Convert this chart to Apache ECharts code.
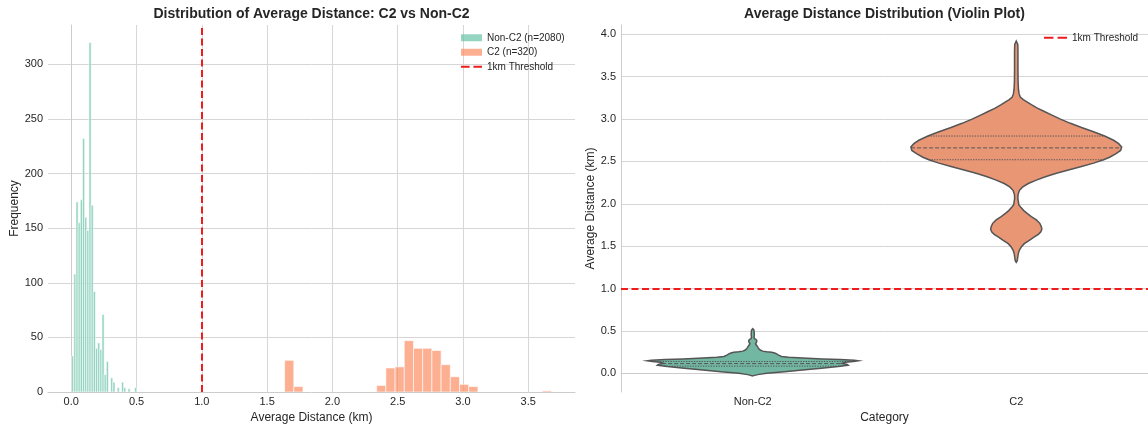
<!DOCTYPE html>
<html><head><meta charset="utf-8">
<script src="https://cdn.jsdelivr.net/npm/echarts@6/dist/echarts.min.js"></script>
<style>html,body{margin:0;padding:0;background:#fff}#c{width:1148px;height:425px}</style>
</head><body><div id="c"></div>
<script>
// ---------------- data ----------------
const nonC2Label = 'Non-C2 (n=2080)';
const c2Label = 'C2 (n=320)';
const thresholdLabel = '1km Threshold';
const threshold = 1.0;

// histogram bins (first bin edge, bin width, counts per bin)
const nonC2BinStart = 0.003;
const nonC2BinWidth = 0.0166;
const nonC2Counts = [33,108,174,155,176,232,160,148,320,171,92,40,45,39,71,16,28,0,13,9,0,4,0,9,4,0,3,0,0,4];
const c2BinStart = 1.634;
const c2BinWidth = 0.0705;
const c2Counts = [29,5,0,0,0,0,0,0,0,0,6,22,23,47,40,40,38,25,14,7,5,0,0,0,0,0,0,0,1];

// violin plot
const violinCategories = ['Non-C2', 'C2'];
// density outline: y (km) and relative half-width
const nonC2ViolinY = [-0.03,-0.015,0.0,0.02,0.04,0.06,0.08,0.095,0.105,0.118,0.13,0.14,0.148,0.155,0.162,0.17,0.18,0.19,0.20,0.215,0.23,0.24,0.248,0.255,0.262,0.272,0.285,0.30,0.32,0.34,0.35,0.36,0.375,0.39,0.40,0.41,0.43,0.46,0.49,0.51,0.527];
const nonC2ViolinD = [0,5,14,32,50,69,86,96,95,90,93,101,106,102,88,70,50,36,29,26,24,22,19,14,10,8,6.5,5.5,4.5,3.2,2.8,3.5,4,4,3,1.6,1.3,1.6,1.4,1.2,0];
const c2ViolinY = [1.31,1.33,1.37,1.41,1.45,1.49,1.53,1.57,1.61,1.64,1.67,1.70,1.73,1.77,1.81,1.85,1.89,1.92,1.96,1.99,2.02,2.06,2.11,2.16,2.20,2.24,2.28,2.32,2.36,2.40,2.44,2.48,2.52,2.55,2.59,2.63,2.67,2.71,2.75,2.80,2.85,2.90,2.95,3.00,3.05,3.09,3.13,3.17,3.20,3.23,3.26,3.30,3.35,3.45,3.6,3.8,3.88,3.92];
const c2ViolinD = [0,1,1.5,2,3,5,8,13,18,22,24.5,25.5,25,23.5,20,15,10.5,7.5,4.5,2.5,2.2,1.6,1.8,3.2,6.5,12,20,29,40,52,65,77,87,93,99,104,105,102,97,88,77,65,54,44,35,28,21,15,11,7,4,2.8,2.2,1.8,1.7,1.7,1.5,0];
const nonC2Quartiles = [0.085, 0.115, 0.14];
const c2Quartiles = [2.52, 2.66, 2.80];

// ---------------- styling ----------------
const FONT = 'Liberation Sans, Arial, sans-serif';
const TXT = '#262626';
const GRIDC = '#d6d6d6';
const SPINE = '#cccccc';
const histGreen = 'rgba(102,194,165,0.7)';
const histOrange = 'rgba(252,141,98,0.7)';
const violinGreen = '#71b7a1';
const violinOrange = '#e99675';
const violinEdge = '#555555';
const RED = '#ee1c1c';
const dashIcon = 'path://M0,0h9v2h-9zM13,0h9v2h-9z';

function binData(start, width, counts) {
  const out = [];
  counts.forEach((c, i) => { if (c > 0) out.push([start + i * width, start + (i + 1) * width, c]); });
  return out;
}

function histRender(color) {
  return function (params, api) {
    const p0 = api.coord([api.value(0), api.value(2)]);
    const p1 = api.coord([api.value(1), 0]);
    return {
      type: 'rect',
      shape: { x: p0[0], y: p0[1], width: p1[0] - p0[0], height: p1[1] - p0[1] },
      style: { fill: color, stroke: '#ffffff', lineWidth: 0.6 }
    };
  };
}

const profiles = [
  { y: nonC2ViolinY, d: nonC2ViolinD, q: nonC2Quartiles, fill: violinGreen },
  { y: c2ViolinY, d: c2ViolinD, q: c2Quartiles, fill: violinOrange }
];

function widthAt(prof, v) {
  for (let i = 0; i < prof.y.length - 1; i++) {
    if (v >= prof.y[i] && v <= prof.y[i + 1]) {
      const t = (v - prof.y[i]) / (prof.y[i + 1] - prof.y[i]);
      return prof.d[i] + t * (prof.d[i + 1] - prof.d[i]);
    }
  }
  return 0;
}

function violinRender(params, api) {
  const idx = api.value(0);
  const prof = profiles[idx];
  const band = api.size([1, 0])[0];
  const cx = api.coord([idx, 0])[0];
  const maxD = Math.max.apply(null, prof.d);
  const k = 0.4 * band / maxD;
  const right = [], left = [];
  for (let i = 0; i < prof.y.length; i++) {
    const py = api.coord([idx, prof.y[i]])[1];
    const w = prof.d[i] * k;
    right.push([cx + w, py]);
    left.push([cx - w, py]);
  }
  const pts = right.concat(left.reverse());
  const children = [{
    type: 'polygon', shape: { points: pts },
    style: { fill: prof.fill, stroke: violinEdge, lineWidth: 1.5 }
  }];
  prof.q.forEach((qv, j) => {
    const py = api.coord([idx, qv])[1];
    const w = widthAt(prof, qv) * k;
    children.push({
      type: 'line', shape: { x1: cx - w, y1: py, x2: cx + w, y2: py },
      style: { stroke: violinEdge, lineWidth: 1, lineDash: j === 1 ? [4, 2] : [1.3, 1.3] }
    });
  });
  return { type: 'group', children: children };
}

const chart = echarts.init(document.getElementById('c'), null, { renderer: 'canvas' });
const axisCommon = {
  axisLine: { show: true, lineStyle: { color: SPINE, width: 1 } },
  axisTick: { show: false },
  nameLocation: 'middle',
  nameTextStyle: { fontSize: 12, color: TXT, fontFamily: FONT }
};
chart.setOption({
  animation: false,
  backgroundColor: '#ffffff',
  textStyle: { fontFamily: FONT },
  graphic: [
    { type: 'text', x: 311.5, y: 14, style: { text: 'Distribution of Average Distance: C2 vs Non-C2', font: 'bold 14px ' + FONT, fill: TXT, textAlign: 'center', textVerticalAlign: 'middle' } },
    { type: 'text', x: 884.5, y: 14, style: { text: 'Average Distance Distribution (Violin Plot)', font: 'bold 14px ' + FONT, fill: TXT, textAlign: 'center', textVerticalAlign: 'middle' } }
  ],
  grid: [
    { left: 48, top: 25, width: 527, height: 367, outerBoundsMode: 'none', containLabel: false },
    { left: 621, top: 25, width: 527, height: 367, outerBoundsMode: 'none', containLabel: false }
  ],
  legend: [
    {
      orient: 'vertical', left: 461, top: 32, padding: 0, itemWidth: 21, itemHeight: 7, itemGap: 3,
      textStyle: { fontSize: 10, color: TXT, fontFamily: FONT, lineHeight: 11.5 },
      data: [
        { name: nonC2Label, icon: 'rect', itemStyle: { color: histGreen } },
        { name: c2Label, icon: 'rect', itemStyle: { color: histOrange } },
        { name: thresholdLabel, icon: dashIcon, itemStyle: { color: RED } }
      ]
    },
    {
      orient: 'vertical', left: 1044, top: 32, padding: 0, itemWidth: 23, itemHeight: 3,
      textStyle: { fontSize: 10, color: TXT, fontFamily: FONT, lineHeight: 11.5 },
      data: [{ name: thresholdLabel, icon: dashIcon, itemStyle: { color: RED } }]
    }
  ],
  xAxis: [
    Object.assign({}, axisCommon, {
      type: 'value', gridIndex: 0, min: -0.178, max: 3.858, splitNumber: 8,
      name: 'Average Distance (km)', nameGap: 18,
      axisLabel: { fontSize: 11, color: TXT, margin: 4, showMinLabel: false, showMaxLabel: false, formatter: v => v.toFixed(1) },
      splitLine: { show: true, showMinLine: false, showMaxLine: false, lineStyle: { color: GRIDC, width: 1 } }
    }),
    Object.assign({}, axisCommon, {
      type: 'category', gridIndex: 1, data: violinCategories, boundaryGap: true,
      name: 'Category', nameGap: 18,
      axisLabel: { fontSize: 11, color: TXT, margin: 4 },
      splitLine: { show: false }
    })
  ],
  yAxis: [
    Object.assign({}, axisCommon, {
      type: 'value', gridIndex: 0, min: 0, max: 336, splitNumber: 7,
      name: 'Frequency', nameGap: 25,
      axisLabel: { fontSize: 11, color: TXT, margin: 5, showMinLabel: true, showMaxLabel: false },
      splitLine: { show: true, showMinLine: false, showMaxLine: false, lineStyle: { color: GRIDC, width: 1 } }
    }),
    Object.assign({}, axisCommon, {
      type: 'value', gridIndex: 1, min: -0.22, max: 4.11, splitNumber: 9,
      name: 'Average Distance (km)', nameGap: 24,
      axisLabel: { fontSize: 11, color: TXT, margin: 5, showMinLabel: false, showMaxLabel: false, formatter: v => v.toFixed(1) },
      splitLine: { show: true, showMinLine: false, showMaxLine: false, lineStyle: { color: GRIDC, width: 1 } }
    })
  ],
  series: [
    {
      type: 'custom', name: nonC2Label, xAxisIndex: 0, yAxisIndex: 0, clip: true,
      itemStyle: { color: histGreen },
      renderItem: histRender(histGreen), encode: { x: [0, 1], y: 2 },
      data: binData(nonC2BinStart, nonC2BinWidth, nonC2Counts)
    },
    {
      type: 'custom', name: c2Label, xAxisIndex: 0, yAxisIndex: 0, clip: true,
      itemStyle: { color: histOrange },
      renderItem: histRender(histOrange), encode: { x: [0, 1], y: 2 },
      data: binData(c2BinStart, c2BinWidth, c2Counts)
    },
    {
      type: 'line', name: thresholdLabel, xAxisIndex: 0, yAxisIndex: 0, data: [], z: 5,
      itemStyle: { color: RED }, lineStyle: { color: RED, width: 2, type: [7, 3.5] },
      markLine: { silent: true, symbol: ['none', 'none'], label: { show: false },
        lineStyle: { color: RED, width: 2, type: [7, 3.5] }, data: [{ xAxis: threshold }] }
    },
    {
      type: 'custom', name: 'violin', xAxisIndex: 1, yAxisIndex: 1, clip: true,
      renderItem: violinRender, encode: { x: 0, y: 1 },
      data: violinCategories.map((c, i) => [i, profiles[i].q[1]])
    },
    {
      type: 'line', name: thresholdLabel, xAxisIndex: 1, yAxisIndex: 1, data: [], z: 5,
      itemStyle: { color: RED }, lineStyle: { color: RED, width: 2, type: [7, 3.5] },
      markLine: { silent: true, symbol: ['none', 'none'], label: { show: false },
        lineStyle: { color: RED, width: 2, type: [7, 3.5] }, data: [{ yAxis: threshold }] }
    }
  ]
});
</script></body></html>
